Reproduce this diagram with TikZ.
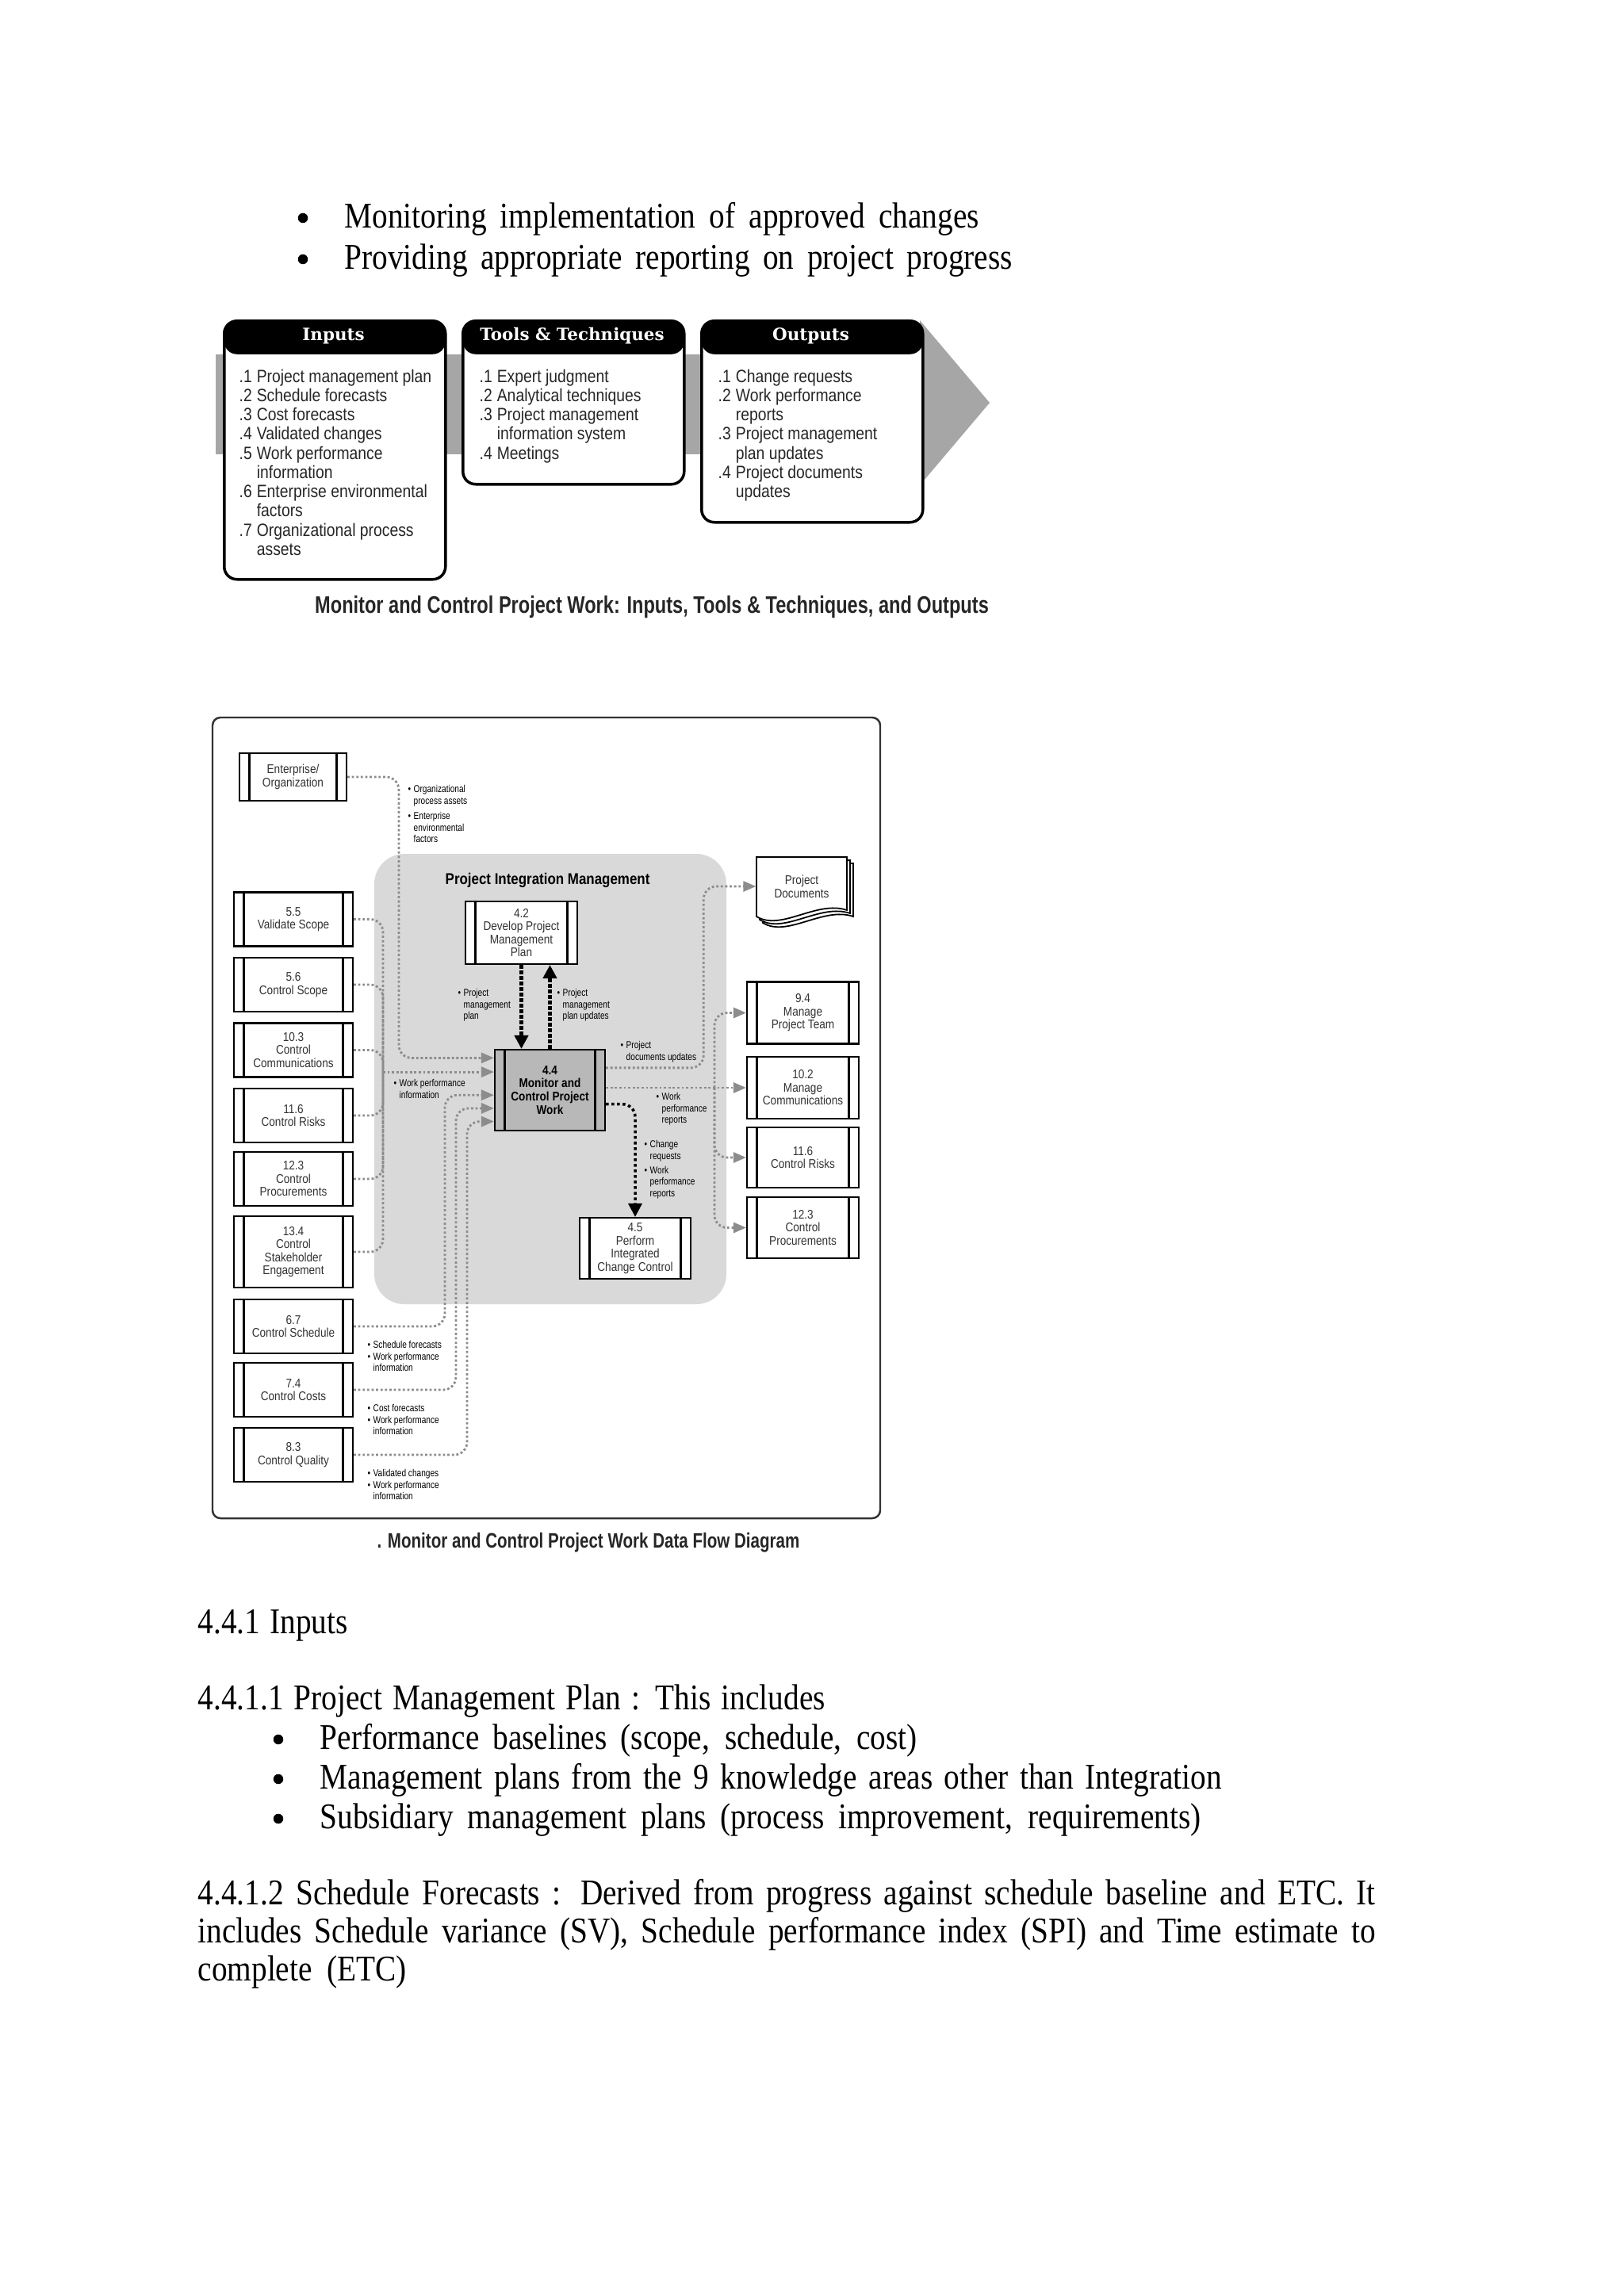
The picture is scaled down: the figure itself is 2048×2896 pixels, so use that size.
\documentclass[tikz,border=0pt]{standalone}
\usepackage{fontspec}
\usepackage{tikz}
\usetikzlibrary{calc,arrows.meta}
\setmainfont{Liberation Serif}
\newfontfamily\bodyfont[FakeStretch=0.86]{Liberation Serif}
\newfontfamily\cndfont[FakeStretch=0.86]{Liberation Sans}
\newfontfamily\lblfont[FakeStretch=0.8]{Liberation Sans}
\newfontfamily\capfont[FakeStretch=0.78]{Liberation Sans}
\newfontfamily\slabfont{DejaVu Serif}
\definecolor{bandc}{HTML}{A6A6A6}
\definecolor{areac}{HTML}{D9D9D9}
\definecolor{linec}{HTML}{8C8C8C}
\definecolor{mcfill}{HTML}{B8B8B8}
\newcommand{\itm}[1]{\makebox[6.3pt][l]{#1}}
\newcommand{\hang}{\hspace*{6.3pt}}
\newcommand{\bul}{\makebox[2pt][l]{\textbullet}}
\newcommand{\bhang}{\hspace*{2pt}}
\tikzset{
  txt/.style={font=\bodyfont\fontsize{13pt}{15pt}\selectfont,inner sep=0pt,anchor=west,text height=8.6pt,text depth=2.7pt},
  bulnode/.style={circle,fill=black,inner sep=0pt,minimum size=1.25mm},
  ittobox/.style={draw,line width=1pt,rounded corners=1.6mm,fill=white,anchor=north west,inner sep=0pt,minimum width=27.9mm,
    path picture={\fill[black] (path picture bounding box.north west) rectangle ([yshift=-4.2mm]path picture bounding box.north east);}},
  hdr/.style={font=\slabfont\bfseries\fontsize{6.1pt}{6.5pt}\selectfont,text=white,inner sep=0pt},
  ittotxt/.style={font=\cndfont\fontsize{6.4pt}{6.9pt}\selectfont,text=black!85,align=left,inner sep=0pt,anchor=north west},
  proc/.style={draw,line width=0.6pt,fill=white,minimum width=15mm,minimum height=6.8mm,inner sep=0pt,align=center,
    text=black!80,font=\cndfont\fontsize{4.5pt}{4.7pt}\selectfont,
    path picture={\draw[line width=0.6pt] ([xshift=1.25mm]path picture bounding box.north west) -- ([xshift=1.25mm]path picture bounding box.south west)
      ([xshift=-1.25mm]path picture bounding box.north east) -- ([xshift=-1.25mm]path picture bounding box.south east);}},
  lbl/.style={font=\lblfont\fontsize{3.6pt}{4.1pt}\selectfont,align=left,inner sep=0pt,anchor=north west},
  gline/.style={draw=linec,line width=0.8pt,dash pattern=on 0.8pt off 0.8pt,rounded corners=1.6mm},
  garr/.style={gline,-{Triangle[length=1.6mm,width=1.3mm]}},
  bthick/.style={draw=black,line width=1.3pt,dash pattern=on 1.3pt off 0.7pt,-{Triangle[length=1.7mm,width=1.7mm]}},
  barr/.style={draw=black,line width=1pt,dash pattern=on 1pt off 1pt,rounded corners=1.6mm,-{Triangle[length=1.7mm,width=1.7mm]}}
}
\begin{document}
\begin{tikzpicture}[x=0.1mm,y=-0.1mm]
\fill[white] (0,0) rectangle (2048,2896);
\useasboundingbox (0,0) rectangle (2048,2896);

% text above
\node[bulnode] (b1) at (382,275) {};
\node[txt] (l1) at (434,277) {\makebox[80mm][s]{Monitoring implementation of approved changes}};
\node[bulnode] (b2) at (382,327) {};
\node[txt] (l2) at (434,329) {\makebox[84.2mm][s]{Providing appropriate reporting on project progress}};

% ITTO
\fill[bandc] (272,447) rectangle (1170,573);
\fill[bandc] (1160,404) -- (1248,508) -- (1160,612) -- cycle;
\node[ittobox,minimum height=32.6mm] (inbox) at (281,403) {};
\node[ittobox,minimum height=20.6mm] (ttbox) at (582,403) {};
\node[ittobox,minimum height=25.4mm] (outbox) at (883,403) {};
\node[hdr] (inh) at (420.5,424) {Inputs};
\node[hdr] (tth) at (721.5,424) {Tools \& Techniques};
\node[hdr] (outh) at (1022.5,424) {Outputs};
\node[ittotxt] (intxt) at (301,465) {\itm{.1}Project management plan\\ \itm{.2}Schedule forecasts\\ \itm{.3}Cost forecasts\\
  \itm{.4}Validated changes\\ \itm{.5}Work performance\\ \hang information\\ \itm{.6}Enterprise environmental\\ \hang factors\\
  \itm{.7}Organizational process\\ \hang assets};
\node[ittotxt] (tttxt) at (604,465) {\itm{.1}Expert judgment\\ \itm{.2}Analytical techniques\\ \itm{.3}Project management\\
  \hang information system\\ \itm{.4}Meetings};
\node[ittotxt] (outtxt) at (905,465) {\itm{.1}Change requests\\ \itm{.2}Work performance\\ \hang reports\\ \itm{.3}Project management\\
  \hang plan updates\\ \itm{.4}Project documents\\ \hang updates};
\node[font=\capfont\bfseries\fontsize{8.6pt}{9pt}\selectfont,text=black!85,inner sep=0pt] (ittocap) at (822,766)
  {Monitor and Control Project Work: Inputs, Tools \& Techniques, and Outputs};

% data flow diagram
\draw[line width=0.7pt,draw=black!80,rounded corners=1mm] (268,905) rectangle (1110,1915);
\fill[areac,rounded corners=3.8mm] (472,1077) rectangle (916,1645);
\node[font=\cndfont\bfseries\fontsize{5.6pt}{6pt}\selectfont,anchor=west,inner sep=0pt] (pim) at (561,1110) {Project Integration Management};

\node[proc,minimum width=13.5mm,minimum height=6mm] (ent) at (369.5,980) {Enterprise/\\Organization};
\node[proc] (vs) at (370,1159.5) {5.5\\Validate Scope};
\node[proc] (csc) at (370,1242) {5.6\\Control Scope};
\node[proc] (cc) at (370,1324.5) {10.3\\Control\\Communications};
\node[proc] (crl) at (370,1407) {11.6\\Control Risks};
\node[proc] (cp) at (370,1487) {12.3\\Control\\Procurements};
\node[proc,minimum height=9mm] (cse) at (370,1579) {13.4\\Control\\Stakeholder\\Engagement};
\node[proc] (sch) at (370,1673) {6.7\\Control Schedule};
\node[proc] (cst) at (370,1753) {7.4\\Control Costs};
\node[proc] (cq) at (370,1835) {8.3\\Control Quality};

\node[proc,minimum width=14.1mm,minimum height=7.9mm] (dp) at (657.5,1176.5) {4.2\\Develop Project\\Management\\Plan};
\node[proc,minimum width=13.9mm,minimum height=10.2mm,fill=mcfill,text=black,font=\cndfont\bfseries\fontsize{4.5pt}{4.8pt}\selectfont]
  (mc) at (693.5,1375) {4.4\\Monitor and\\Control Project\\Work};
\node[proc,minimum width=14mm,minimum height=7.7mm] (icc) at (801,1574.5) {4.5\\Perform\\Integrated\\Change Control};

\node[proc,minimum width=14.1mm,minimum height=7.8mm] (pt) at (1012.5,1277.5) {9.4\\Manage\\Project Team};
\node[proc,minimum width=14.1mm,minimum height=7.8mm] (mcom) at (1012.5,1372) {10.2\\Manage\\Communications};
\node[proc,minimum width=14.1mm,minimum height=7.6mm] (rkr) at (1012.5,1460) {11.6\\Control Risks};
\node[proc,minimum width=14.1mm,minimum height=7.7mm] (prr) at (1012.5,1548.5) {12.3\\Control\\Procurements};

\foreach \d in {8,4,0}
  \filldraw[fill=white,line width=0.5pt] (954+\d,1081+\d) -- (1068+\d,1081+\d) -- (1068+\d,1148+\d)
    .. controls (1030+\d,1135+\d) and (985+\d,1175+\d) .. (954+\d,1156+\d) -- cycle;
\node[minimum width=11.4mm,minimum height=6mm,inner sep=0pt,align=center,text=black!80,
  font=\cndfont\fontsize{4.5pt}{4.8pt}\selectfont] (docs) at (1011,1118) {Project\\Documents};

\coordinate (in1) at ($(mc.north west)!0.11!(mc.south west)$);
\coordinate (in2) at ($(mc.north west)!0.28!(mc.south west)$);
\coordinate (in3) at ($(mc.north west)!0.56!(mc.south west)$);
\coordinate (in4) at ($(mc.north west)!0.72!(mc.south west)$);
\coordinate (in5) at ($(mc.north west)!0.88!(mc.south west)$);
\coordinate (out1) at ($(mc.north east)!0.23!(mc.south east)$);
\coordinate (out3) at ($(mc.north east)!0.67!(mc.south east)$);
\coordinate (lbus) at ([xshift=-14mm]in2);
\coordinate (rbus) at ([xshift=-4mm]mcom.west);

\draw[garr] (ent.east) -| ([xshift=-12mm]in1) -- (in1);
\foreach \s in {vs,csc,cc,crl,cp,cse}
  \draw[gline] (\s.east) -| (lbus);
\draw[garr] (lbus) -- (in2);
\draw[garr] (sch.east) -| ([xshift=-6.2mm]in3) -- (in3);
\draw[garr] (cst.east) -| ([xshift=-4.8mm]in4) -- (in4);
\draw[garr] (cq.east) -| ([xshift=-3.4mm]in5) -- (in5);

\draw[bthick] (dp.south) -- (dp.south |- mc.north);
\draw[bthick] (mc.north) -- (mc.north |- dp.south);

\draw[garr] (out1) -| ([xshift=-6.6mm]docs.west) -- (docs.west);
\draw[garr] (mc.east |- mcom.west) -- (mcom.west);
\draw[garr] (rbus) |- (pt.west);
\draw[garr] (rbus) |- (rkr.west);
\draw[garr] (rbus) |- (prr.west);
\draw[barr] (out3) -| (icc.north);

\node[lbl] (lorg) at (514,990) {\bul Organizational\\\bhang process assets\\[1.5pt]\bul Enterprise\\\bhang environmental\\\bhang factors};
\node[lbl] (lpmp) at (577,1247) {\bul Project\\\bhang management\\\bhang plan};
\node[lbl] (lpmpu) at (702,1247) {\bul Project\\\bhang management\\\bhang plan updates};
\node[lbl] (lpdu) at (782,1313) {\bul Project\\\bhang documents updates};
\node[lbl] (lwpr) at (827,1378) {\bul Work\\\bhang performance\\\bhang reports};
\node[lbl] (lcr) at (812,1438) {\bul Change\\\bhang requests\\[1pt]\bul Work\\\bhang performance\\\bhang reports};
\node[lbl] (lwpi) at (496,1361) {\bul Work performance\\\bhang information};
\node[lbl] (lsf) at (463,1691) {\bul Schedule forecasts\\\bul Work performance\\\bhang information};
\node[lbl] (lcf) at (463,1771) {\bul Cost forecasts\\\bul Work performance\\\bhang information};
\node[lbl] (lvc) at (463,1853) {\bul Validated changes\\\bul Work performance\\\bhang information};

\node[font=\capfont\bfseries\fontsize{7.5pt}{8pt}\selectfont,text=black!85,inner sep=0pt] (dfdcap) at (742,1946)
  {. Monitor and Control Project Work Data Flow Diagram};

% text below
\node[txt] (h1) at (249,2050) {\makebox[18.9mm][s]{4.4.1 Inputs}};
\node[txt] (h2) at (249,2146) {\makebox[79.1mm][s]{4.4.1.1 Project Management Plan : This includes}};
\node[bulnode] (b3) at (351,2194) {};
\node[txt] (p1) at (403,2196) {\makebox[75.3mm][s]{Performance baselines (scope, schedule, cost)}};
\node[bulnode] (b4) at (351,2244) {};
\node[txt] (p2) at (403,2246) {\makebox[113.7mm][s]{Management plans from the 9 knowledge areas other than Integration}};
\node[bulnode] (b5) at (351,2294) {};
\node[txt] (p3) at (403,2296) {\makebox[111.1mm][s]{Subsidiary management plans (process improvement, requirements)}};
\node[txt] (j1) at (249,2392) {\makebox[148.5mm][s]{4.4.1.2 Schedule Forecasts : Derived from progress against schedule baseline and ETC. It}};
\node[txt] (j2) at (249,2440) {\makebox[148.5mm][s]{includes Schedule variance (SV), Schedule performance index (SPI) and Time estimate to}};
\node[txt] (j3) at (249,2488) {\makebox[26.3mm][s]{complete (ETC)}};
\end{tikzpicture}
\end{document}
